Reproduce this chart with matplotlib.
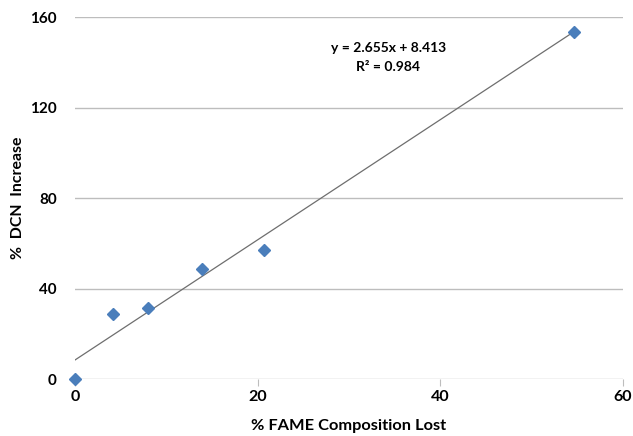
import numpy as np
import matplotlib.pyplot as plt

# data
fame_lost = [0.0, 4.2, 8.0, 13.9, 20.7, 54.6]
dcn_increase = [0.0, 28.7, 31.5, 48.8, 57.0, 153.2]
slope = 2.655
intercept = 8.413
eq_text = 'y = 2.655x + 8.413\nR\u00b2 = 0.984'
xticks = [0, 20, 40, 60]
yticks = [0, 40, 80, 120, 160]

plt.rcParams['font.family'] = ['Lato', 'DejaVu Sans']
plt.rcParams['font.weight'] = 'bold'

fig = plt.figure(figsize=(6.33, 4.36), dpi=100)
ax = fig.add_axes([0.1185, 0.1307, 0.8655, 0.8303])

for y in yticks:
    ax.axhline(y, color='#bdbdbd', lw=1.0, zorder=1)

xs = np.array([min(fame_lost), max(fame_lost)])
ax.plot(xs, slope * xs + intercept, color='#6e6e6e', lw=0.9, zorder=2)
ax.plot(fame_lost, dcn_increase, linestyle='none', marker='D', ms=6.5,
        color='#4a7ebb', zorder=3, clip_on=False)

ax.text(34.3, 142, eq_text, ha='center', va='center', fontsize=10,
        fontweight='bold', linespacing=1.65)

ax.set_xlim(0, 60)
ax.set_ylim(0, 160)
ax.set_xticks(xticks)
ax.set_yticks(yticks)
for s in ['top', 'right', 'left', 'bottom']:
    ax.spines[s].set_visible(False)
ax.tick_params(axis='y', length=0, pad=13, labelsize=11)
ax.tick_params(axis='x', length=5, color='#bdbdbd', pad=3, labelsize=11.5)

ax.set_xlabel('% FAME Composition Lost', fontsize=11.8, fontweight='bold', labelpad=11)
ax.set_ylabel('%  DCN  Increase', fontsize=11.4, fontweight='bold', labelpad=4)

fig.savefig('out.png', dpi=100)
